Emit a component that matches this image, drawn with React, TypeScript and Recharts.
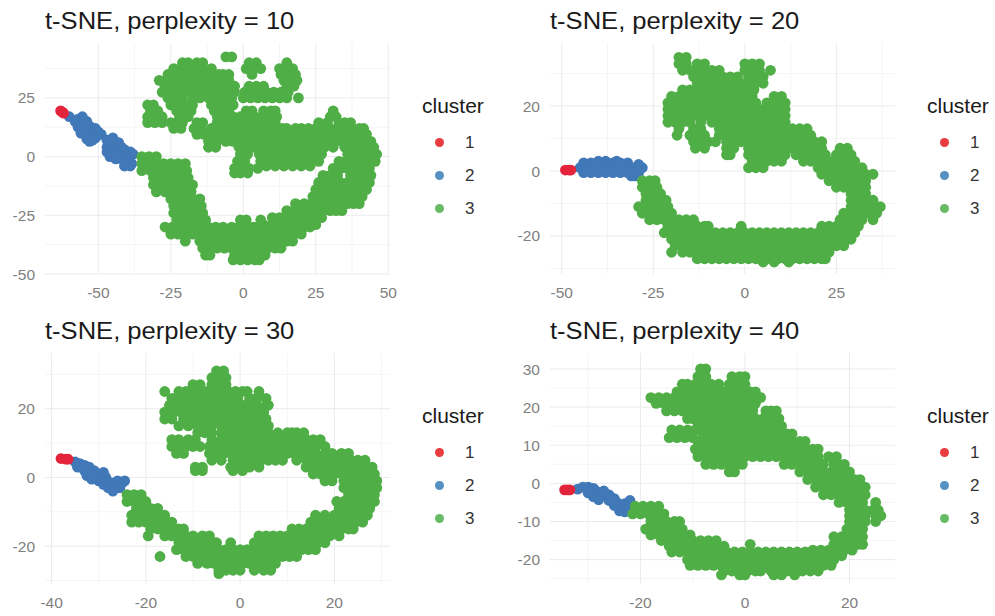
import { CartesianGrid, Scatter, ScatterChart, XAxis, YAxis } from "recharts";

const FONT = '"Liberation Sans", Arial, sans-serif';
const RED = "#E41A1C";
const BLUE = "#377EB8";
const GREEN = "#4DAF4A";

const clusterLabels = ["1", "2", "3"];

const green10 = [
  [42.5, -6, -4],
  [40, -21, -19, -16, -14, 2, 4.5, 15],
  [37.5, -24, -21.5, -19, -16.5, -14, -11, 1, 3.5, 6, 12.5, 15, 17],
  [35, -26, -23.5, -21, -18.5, -16, -13.5, -11, -8.5, -7, -5, 3, 13, 15.5, 18],
  [32.5, -29, -26.5, -24, -21.5, -19, -16.5, -14, -11.5, -9, -6.5, -5, 14, 16.5, 18.5],
  [30, -27, -24.5, -22, -19.5, -17, -14.5, -12, -9.5, -7, -4.5, -3, 2, 4.5, 7, 15, 17.5],
  [27.5, -28, -25.5, -23, -20.5, -18, -15.5, -13, -10.5, -8, -5.5, -3, 0.5, 3, 5.5, 8, 10.5, 13, 15.5],
  [25, -26, -23.5, -21, -17.5, -15, -12, -9.5, -7, -4, 0, 2.5, 5, 7.5, 10, 12.5, 15, 19],
  [22, -33, -31, -25, -22.5, -20, -17.5, -11, -8, -5.5, -3.5],
  [19.5, -32, -29.5, -23, -20.5, -18, -10, -7, -5, 1, 3, 7, 9.5, 11, 31],
  [17, -33, -30.5, -28, -22, -19, -9, -6, -3.5, -1, 1.5, 4, 6.5, 9, 11.5, 30, 32],
  [14.5, -33, -30.5, -28, -25, -23, -21, -16, -14, -9, -6.5, -4, -1.5, 1, 3.5, 6, 8.5, 11, 26, 29, 33, 35, 37],
  [12, -24, -21.5, -17, -14.5, -11, -8.5, -6, -3.5, -1, 1.5, 4, 6.5, 9, 11.5, 13.5, 15, 18, 20, 22.5, 25, 27.5, 30, 32.5, 35, 37.5, 40, 41.5],
  [9.5, -16, -13.5, -10, -7.5, -5, -2.5, 0, 2.5, 5, 7.5, 10, 12.5, 15, 17.5, 20, 22.5, 25, 27.5, 30, 32.5, 35, 37.5, 40, 42.5],
  [6.5, -12, -9, -6, -3.5, -1, 1.5, 4, 6.5, 9, 11.5, 14, 16.5, 19, 21.5, 24, 26.5, 29, 31.5, 34, 36.5, 39, 41.5, 44],
  [4, -12, -9.5, -1.5, 1, 3.5, 6, 8.5, 11, 13.5, 16, 18.5, 21, 23.5, 26, 28, 31, 35, 37.5, 40, 42.5, 45],
  [1, -1, 1.5, 5.5, 7.5, 10, 12.5, 15, 17.5, 20, 22.5, 25, 27, 36, 38.5, 41, 43.5, 46],
  [-2, -2, 0.5, 6, 8.5, 11, 13.5, 16, 18.5, 21, 23.5, 26, 33, 35.5, 38, 40.5, 43, 45.5],
  [-4, 8, 11, 14, 17, 20, 23],
  [-5, -3, -0.5, 2, 5, 31, 33.5, 36, 38.5, 41, 43.5],
  [-7, -3, -1, 1.5],
  [-8, 27.5, 30, 32.5, 37, 39.5, 42, 44],
  [-11, 26, 28.5, 31, 33.5, 36, 38.5, 41, 43.5],
  [-14, 25, 27.5, 30, 32.5, 35, 37.5, 40, 42.5],
  [-17, 24, 26.5, 29, 31.5, 34, 36.5, 39, 41],
  [-20, 18, 21, 23.5, 26, 28.5, 31, 33.5, 36, 38, 40],
  [-23, 15, 17.5, 20, 22.5, 25, 27.5, 30, 32, 34],
  [-26, 10, 12.5, 15, 17.5, 20, 22.5, 25, 27],
  [-27, -1, 1, 6],
  [-29, 7, 10, 12.5, 15, 17.5, 20, 22.5, 25],
  [0, -35, -32.5, -30],
  [-3, -35, -32.5, -30, -27.5, -25, -22.5, -20],
  [-6, -35, -32, -29, -26.5, -24, -21.5, -19.5],
  [-9, -31, -28.5, -26, -23.5, -21, -19],
  [-12, -31, -28.5, -26, -23.5, -21, -18.5, -17.5],
  [-15, -30, -27, -24, -21.5, -19, -18],
  [-18, -25, -22.5, -20, -17.5, -15],
  [-21, -24, -21.5, -19, -16.5, -14.5],
  [-24, -24, -21.5, -19, -16.5, -14],
  [-27, -23, -20.5, -18, -15.5, -13],
  [-30, -27, -24.5, -22, -19.5, -17, -14.5, -12, -9.5, -7, -4, -1.5, 1, 3.5, 6, 8.5, 11, 13.5, 16, 18.5, 21, 23],
  [-33, -25, -22.5, -20, -17.5, -15, -12.5, -10, -7.5, -5, -2.5, 0, 2.5, 5, 7.5, 10, 12.5, 15, 17.5, 20],
  [-36, -20, -15, -12.5, -10, -7.5, -5, -2.5, 0, 2.5, 5, 7.5, 10, 12.5, 15, 17],
  [-39, -14, -11.5, -9, -6.5, -4, -1.5, 1, 3.5, 6, 8.5, 11, 13],
  [-42, -13, -11.5, -3, -0.5, 2, 4.5, 7.5],
  [-44, -3.5, -1, 1.5, 4, 5.5],
];
const blue10 = [
  [17, -60], [15, -58], [14, -56], [15, -54], [12.5, -57], [11.5, -55], [13, -53], [12, -51], [9.5, -54], [10, -52],
  [10.5, -50], [9.5, -49], [7, -52], [6.5, -53], [7, -47], [8, -45], [4, -47], [5, -45], [6, -43], [3, -41],
  [2, -47], [2, -45], [3, -43], [0.5, -41], [2, -39], [-1, -42], [-2, -40], [1, -38], [-4, -41], [-4, -39], [1, -44],
  [8, -51], [13.5, -54.5], [6, -46], [0, -46], [-1, -44], [4, -42], [-3, -38.5], [10, -56], [7.5, -54], [16, -57], [17, -55.5],
];
const red10 = [[19.5, -63], [19, -62.5], [18.5, -62]];

const green20 = [
  [35, -18, -16],
  [33, -18, -16, -13, -11, 0, 2, 4],
  [31, -17, -15, -13, -11, -9, -7, 0, 2, 4, 7],
  [29, -14, -12, -10, -8, -6, -4, -2, 1, 3, 5],
  [27, -13, -11, -9, -7, -5, -3, -1, 1, 3, 5],
  [25, -17, -15, -13, -11, -9, -7, -5, -3, -1, 1, 2.5],
  [23, -20, -18, -16, -14, -12, -10, -8, -6, -4, -2, 0, 2, 8, 10],
  [21, -21, -19, -17, -15, -13, -11, -9, -7, -5, -3, -1, 1, 3, 6, 8, 10, 11],
  [19, -21, -19, -17, -15, -13, -11, -9, -7, -5, -3, -1, 1, 3, 5, 7, 9, 11],
  [17, -21, -19, -17, -15, -13, -11, -9, -7, -5, -3, -1, 1, 3, 5, 7, 9, 11],
  [15, -21, -19, -17, -15, -12, -9, -7, -5, -3, -1, 1, 3, 5, 7, 9, 11],
  [13, -18, -14, -12, -7, -5, -3, -1, 1, 3, 5, 7, 9, 11, 13, 15, 17],
  [11, -18.5, -15, -13, -11, -7, -5, -3, -1, 1, 3, 5, 7, 9, 11, 13, 15, 17, 18],
  [9, -14, -12, -10, -8, -5, -3, -1, 1, 3, 5, 7, 9, 11, 13, 15, 17, 19, 21],
  [7, -13.5, -11, -5, -3, 1, 3, 5, 7, 9, 11, 13, 15, 17, 19, 21, 26, 28],
  [5, -5, -4, 1, 3, 5, 7, 9, 11, 14, 16, 18, 20, 22, 25, 27, 29],
  [3, 2, 4, 6, 8, 10, 16, 18, 20, 22, 24, 26, 28, 30],
  [1, 1, 3, 5, 20, 22, 24, 26, 28, 30, 32],
  [-1, 21, 23, 25, 27, 29, 31, 33, 35],
  [-3, 23, 25, 27, 29, 31, 33, -28, -26, -24.5],
  [-5, 25, 27, 29, 31, 33, -28, -26, -24],
  [-7, 29, 31, 33, -27, -25, -23],
  [-9, 29, 31, 33, 35, -27, -25, -23, -21.5],
  [-11, 29, 31, 33, 35, 37, -29, -27, -25, -23, -21],
  [-13, 27, 29, 31, 33, 35, 36, -28, -26, -24, -22, -20],
  [-15, 26, 28, 30, 32, 35, -26, -24, -22, -20, -18, -16, -14],
  [-17, 21, 23, 25, 27, 29, 31, -21, -19, -17, -15, -13, -11, -10, -1],
  [-19, -22, -20, -18, -16, -14, -12, -10, -8, -6, -4, -2, 0, 2, 4, 6, 8, 10, 12, 14, 16, 18, 20, 22, 24, 26, 28, 30],
  [-21, -20, -18, -16, -14, -12, -10, -8, -6, -4, -2, 0, 2, 4, 6, 8, 10, 12, 14, 16, 18, 20, 22, 24, 26, 28, 29],
  [-23, -19, -17, -15, -13, -11, -9, -7, -5, -3, -1, 1, 3, 5, 7, 9, 11, 13, 15, 17, 19, 21, 23, 25, 27],
  [-25, -20, -17, -15, -13, -11, -9, -7, -5, -3, -1, 1, 3, 5, 7, 9, 11, 13, 15, 17, 19, 21, 23],
  [-27, -13, -11, -9, -7, -5, -3, -1, 1, 3, 5, 7, 9, 11, 13, 15, 17, 19, 21, 22],
  [-28, 5, 8, 12],
];
const blue20 = [
  [2.5, -44, -42, -40, -38, -36, -34, -32],
  [1, -45, -43, -41, -39, -37, -35, -33, -31, -29, -28],
  [-0.5, -44, -42, -40, -38, -36, -34, -32, -30, -29],
  [3, -40, -38, -35],
  [-1.5, -31, -30],
  [2, -29],
];
const red20 = [[0.3, -49, -48, -47.5]];

const green30 = [
  [31, -5, -3.5],
  [29, -6, -4.5, -3],
  [27, -10, -8.5, -6, -4.5, -3],
  [25, -16, -13, -11.5, -10, -8.5, -7, -5.5, -4, -2.5, -1, 0.5, 1.5, 4],
  [23, -14.5, -13, -11.5, -10, -8.5, -7, -5.5, -4, -2.5, -1.5, -0.5, 2, 3.5, 5.5],
  [21, -15, -13.5, -12, -10.5, -9, -7.5, -6, -4.5, -3, -1, 0.5, 2, 3.5, 5.5, 6],
  [19, -16, -14, -12.5, -11, -9.5, -8, -6.5, -5, -3.5, -2, -0.5, 1, 2.5, 4, 5],
  [17, -16, -14.5, -12, -10.5, -9, -7.5, -6, -4.5, -3, -1.5, 0, 1.5, 3, 4.5, 5.5],
  [15, -13, -11, -9, -7.5, -6, -4, -2.5, -1, 0.5, 2, 3.5, 5, 6],
  [13, -9, -7.5, -6, -4, -2.5, -1, 0.5, 2, 3.5, 5, 6, 8, 10, 11, 12, 13.5],
  [11, -14.5, -13, -11, -9.5, -6, -4, -2, -1, 0.5, 2, 3.5, 5, 6.5, 8, 9.5, 11, 12.5, 14, 15.5, 17],
  [9, -14.5, -13, -11.5, -10, -8.5, -6.5, -5, -3.5, -2, -0.5, 1, 2.5, 4, 5.5, 7, 8.5, 10, 11.5, 13, 14.5, 16, 18],
  [7, -13.5, -12, -6.5, -5, -3.5, -2, -0.5, 1, 2.5, 4, 5.5, 7, 8.5, 10, 11.5, 13, 14.5, 16, 18, 19.5, 21.5, 23],
  [5, -6, -4, -1.5, 0, 1.5, 3, 4.5, 6, 7.5, 9, 12, 14, 15.5, 17, 19, 20.5, 22, 23.5, 25, 26.5],
  [3, -9.5, -8, -2, -0.5, 1, 2, 4, 14, 16, 17.5, 19, 20.5, 22, 23.5, 25, 26.5, 28],
  [2, -9.5, -8, -1.5, 0.5],
  [1, 15.5, 17, 18.5, 20, 21.5, 23, 24.5, 26, 27.5, 28.5],
  [-1, 18, 19.5, 22, 23.5, 25, 26.5, 28, 29],
  [-3, 22, 23.5, 25, 26.5, 28, 29],
  [-5, 23, 24.5, 26, 27.5, 28.5, -24, -22.5, -21],
  [-7, 20.5, 22, 23.5, 25, 26.5, 28, 28.5, -24, -22.5, -21, -20],
  [-9, 21, 23, 24.5, 26, 27.5, -22, -20.5, -19, -17.5],
  [-11, 16, 18, 20, 22, 23.5, 25, 26.5, 27, -23, -21.5, -20, -18.5, -17, -16],
  [-13, 15, 17, 18.5, 20, 21.5, 23, 24.5, 26, -23, -21.5, -20, -18.5, -17, -15.5, -14.5],
  [-15, 11, 12.5, 14, 15.5, 17, 18.5, 20, 21.5, 23, 24, -19, -17.5, -16, -14.5, -13, -12],
  [-17, 4, 5.5, 7, 8.5, 10, 11.5, 13, 14.5, 16, 17.5, 19, 21, -19.5, -16, -14.5, -13, -11.5, -10, -8, -6.5],
  [-19, 3, 4.5, 6, 7.5, 9, 10.5, 12, 13.5, 15, 16.5, 18, -13, -11.5, -10, -8.5, -7, -5.5, -5, -2],
  [-21, -13.5, -12, -10.5, -9, -7.5, -6, -4.5, -3, -1.5, 0, 1.5, 3, 4.5, 6, 7.5, 9, 10.5, 11.5, 13, 14.5, 16],
  [-23, -17, -11.5, -10, -8.5, -7, -5.5, -4, -2.5, -1, 0.5, 2, 3.5, 5, 6.5, 8, 9, 10.5, 12],
  [-25, -9, -7, -5.5, -4, -2.5, -1, 0.5, 2, 3.5, 5, 6, 7.5],
  [-27, -4.5, -3, -1.5, 0, 3, 5, 6.5],
  [-28, -4.5],
];
const blue30 = [
  [4.5, -35], [4, -34], [3.5, -33], [3, -34.5], [2, -33], [3, -32], [2, -31], [0.5, -32.5], [0, -31], [1, -30], [1.5, -29],
  [-1, -30], [0, -28.5], [-0.5, -31.5], [-2, -29], [-1.5, -27.5], [-1, -26], [-1.5, -25], [-1, -24.5], [-3, -28], [-3, -26.5], [-3, -25.5], [-4, -27],
];
const red30 = [[5.5, -38], [5.3, -37, -36.5]];

const green40 = [
  [30, -8.5, -7.5],
  [28, -9, -7.5, -2.5, -1, 0],
  [26, -12, -11, -9.5, -8, -6.5, -5, -3, -1.5, 0],
  [24, -13, -11.5, -10, -8.5, -7, -5.5, -4, -2.5, -1, 0.5, 1, 2],
  [22.5, -18, -16.5, -15, -13.5, -12, -10.5, -9, -7.5, -6, -4.5, -3, -1.5, 0, 1.5, 3],
  [21, -17, -15.5, -14, -12.5, -11, -9.5, -8, -6.5, -5, -3.5, -2, -0.5, 1, 2],
  [19, -15, -13.5, -12, -10.5, -9, -7.5, -6, -4.5, -3, -1.5, 0, 1.5, 4, 5, 6],
  [17, -11, -10, -8.5, -7, -5.5, -4, -2.5, -1, 0.5, 2, 3.5, 5, 6.5],
  [15, -9, -7.5, -6, -4.5, -3, -1.5, 0, 1.5, 3, 4.5, 6, 7],
  [14, -14, -12.5, -11, -9.5],
  [13, -8, -7, -5.5, -4, -2.5, -1, 0.5, 2, 3.5, 5, 6.5, 8, 9],
  [12, -14.5, -13, -11.5, -10],
  [11, -9, -7.5, -6, -4.5, -3, -1.5, 0, 1.5, 3, 4.5, 6, 7.5, 9, 10.5, 11.5],
  [9, -9.5, -8, -6.5, -5, -3.5, -2, -0.5, 1, 2.5, 4, 5.5, 7, 8.5, 10, 11.5, 13, 14],
  [7, -9, -7.5, -6, -4.5, -3, -1.5, 0, 1.5, 3, 4.5, 6, 7.5, 9, 10.5, 12, 13, 14, 16, 17.5],
  [5, -7.5, -6, -4.5, -3, -1.5, -0.5, 7.5, 9, 10.5, 12, 13.5, 15, 17, 18, 19],
  [3, -3, -2, 10.5, 12, 13.5, 15, 16.5, 18, 19, 20],
  [1, 12, 13.5, 15, 16.5, 18, 19.5, 21, 22],
  [-1, 13.5, 15, 16.5, 18, 19.5, 21, 22.5, 23],
  [-3, 15, 16.5, 18, 19.5, 21, 22.5, 23],
  [-5, 18, 19.5, 21, 22.5, 25],
  [-6, -21, -19.5, -18, -16.5],
  [-7, 20, 21.5, 23, 24.5, 25.5],
  [-8, -21.5, -20, -18.5, -17, -15.5],
  [-8.5, 20, 21.5, 23, 25, 26],
  [-10, 20, 21.5, 23, 25, -18, -16.5, -15, -13.5, -12.5],
  [-12, 19.5, 21, 22.5, -19, -17.5, -16, -14.5, -13, -12],
  [-13.5, -18, -16.5, -15, -13.5, -12, -10.5],
  [-14, 17, 18.5, 20, 21.5, 22.5],
  [-15, -16, -14.5, -13, -11.5, -10, -8.5, -7, -5.5],
  [-16, 17, 18.5, 20, 21.5, 22.5, 1],
  [-16.5, -14.5, -13, -11.5, -10, -8.5, -7, -5.5, -4],
  [-17.5, 13, 14.5, 16, 17.5, 19, 20.5],
  [-18, -14, -12.5, -11, -9.5, -8, -6.5, -5, -3.5, -2, -0.5, 1, 2.5, 4, 5.5, 7, 8.5, 10, 11.5, 13, 14.5, 16],
  [-19, 17, 18.5],
  [-20, -11, -9.5, -8, -6.5, -5, -3.5, -2, -0.5, 1, 2.5, 4, 5.5, 7, 8.5, 10, 11.5, 13, 14.5, 16, 17],
  [-21.5, -10.5, -9, -7.5, -6, -4.5, -3, -1.5, 0, 1.5, 3, 4.5, 6, 7.5, 9, 10.5, 12, 13.5, 15, 16.5],
  [-23, -4, -2.5, -1, 0.5, 2, 3, 5, 6.5, 8, 9.5, 11, 12.5, 14],
  [-24, -4.5, -1, 0, 5.5, 7, 9.5],
];
const blue40 = [
  [-1.5, -32], [-1, -31], [-1, -30], [-1.3, -29], [-2.5, -30], [-2, -28.5], [-2, -27], [-3.5, -29], [-3.3, -27.5], [-3, -26], [-4.3, -28],
  [-4.5, -26], [-4, -25], [-5, -24.5], [-5.3, -23], [-4.5, -22], [-5.8, -25], [-6.8, -23.5], [-6.5, -22.5], [-7.2, -24], [-7.5, -23],
];
const red40 = [[-1.7, -34.5, -34, -33.5]];

const xTicks10 = [-50, -25, 0, 25, 50];
const xMinor10 = [-37.5, -12.5, 12.5, 37.5];
const yTicks10 = [-50, -25, 0, 25];
const yMinor10 = [-37.5, -12.5, 12.5, 37.5];

const xTicks20 = [-50, -25, 0, 25];
const xMinor20 = [-37.5, -12.5, 12.5, 37.5];
const yTicks20 = [-20, 0, 20];
const yMinor20 = [-30, -10, 10, 30];

const xTicks30 = [-40, -20, 0, 20];
const xMinor30 = [-30, -10, 10, 30];
const yTicks30 = [-20, 0, 20];
const yMinor30 = [-30, -10, 10, 30];

const xTicks40 = [-20, 0, 20];
const xMinor40 = [-30, -10, 10];
const yTicks40 = [-20, -10, 0, 10, 20, 30];
const yMinor40 = [-25, -15, -5, 5, 15, 25];

const toPoints = (rows: number[][]) =>
  rows.flatMap(([y, ...xs]) => xs.map((x) => ({ x, y })));

const Dot = ({ cx, cy, fill }: any) => <circle cx={cx} cy={cy} r={5.4} fill={fill} />;

const Panel = ({ perplexity, box, xDomain, yDomain, xTicks, xMinor, yTicks, yMinor, green, blue, red }: any) => {
  const width = box.right - box.left;
  const height = box.bottom - box.top;
  const tick = { fontSize: 15.5, fill: "#808080", fontFamily: FONT };

  return (
    <>
      <div
        style={{
          position: "absolute",
          left: box.left,
          top: box.top - 36,
          fontFamily: FONT,
          fontSize: 24,
          lineHeight: "28px",
          color: "#1a1a1a",
          whiteSpace: "nowrap",
          transform: "scaleX(1.065)",
          transformOrigin: "left",
        }}
      >
        {`t-SNE, perplexity = ${perplexity}`}
      </div>

      <div style={{ position: "absolute", left: box.left - 45, top: box.top }}>
        <ScatterChart
          width={width + 45 + 20}
          height={height + 34}
          margin={{ top: 0, right: 20, bottom: 0, left: 0 }}
        >
          <CartesianGrid stroke="#f5f5f5" strokeWidth={1} verticalValues={xMinor} horizontalValues={yMinor} />
          <CartesianGrid stroke="#ebebef" strokeWidth={1} verticalValues={xTicks} horizontalValues={yTicks} />
          <XAxis
            type="number"
            dataKey="x"
            domain={xDomain}
            ticks={xTicks}
            interval={0}
            height={34}
            axisLine={false}
            tickLine={false}
            tick={tick}
            tickMargin={7}
          />
          <YAxis
            type="number"
            dataKey="y"
            domain={yDomain}
            ticks={yTicks}
            interval={0}
            width={45}
            axisLine={false}
            tickLine={false}
            tick={tick}
            tickMargin={4}
          />
          <Scatter data={toPoints(blue)} fill="#4178b8" shape={Dot} isAnimationActive={false} />
          <Scatter data={toPoints(green)} fill="#50ae47" shape={Dot} isAnimationActive={false} />
          <Scatter data={toPoints(red)} fill="#e3243b" shape={Dot} isAnimationActive={false} />
        </ScatterChart>
      </div>

      <div style={{ position: "absolute", left: box.right + 32, top: box.top + 51, fontFamily: FONT }}>
        <div style={{ fontSize: 21, lineHeight: "24px", color: "#1a1a1a" }}>cluster</div>
        {clusterLabels.map((label, i) => (
          <div key={label} style={{ display: "flex", alignItems: "center", height: 33, marginTop: i === 0 ? 8 : 0 }}>
            <span
              style={{
                width: 9,
                height: 9,
                marginLeft: 13,
                borderRadius: "50%",
                background: [RED, BLUE, GREEN][i],
                opacity: 0.85,
              }}
            />
            <span style={{ marginLeft: 21, fontSize: 17, color: "#333" }}>{label}</span>
          </div>
        ))}
      </div>
    </>
  );
};

export default function App() {
  return (
    <div style={{ position: "absolute", left: 0, top: 0, width: 995, height: 616, background: "#fff", overflow: "hidden" }}>
      <Panel
        perplexity={10}
        box={{ left: 45, right: 390, top: 43, bottom: 274 }}
        xDomain={[-68.4, 50.6]}
        yDomain={[-50, 48.4]}
        xTicks={xTicks10}
        xMinor={xMinor10}
        yTicks={yTicks10}
        yMinor={yMinor10}
        green={green10}
        blue={blue10}
        red={red10}
      />
      <Panel
        perplexity={20}
        box={{ left: 550, right: 895, top: 43, bottom: 274 }}
        xDomain={[-53.2, 41]}
        yDomain={[-31.7, 39.4]}
        xTicks={xTicks20}
        xMinor={xMinor20}
        yTicks={yTicks20}
        yMinor={yMinor20}
        green={green20}
        blue={blue20}
        red={red20}
      />
      <Panel
        perplexity={30}
        box={{ left: 45, right: 390, top: 353, bottom: 584 }}
        xDomain={[-41.4, 31.8]}
        yDomain={[-31, 36.2]}
        xTicks={xTicks30}
        xMinor={xMinor30}
        yTicks={yTicks30}
        yMinor={yMinor30}
        green={green30}
        blue={blue30}
        red={red30}
      />
      <Panel
        perplexity={40}
        box={{ left: 550, right: 895, top: 353, bottom: 584 }}
        xDomain={[-37.3, 28.7]}
        yDomain={[-26.4, 34.2]}
        xTicks={xTicks40}
        xMinor={xMinor40}
        yTicks={yTicks40}
        yMinor={yMinor40}
        green={green40}
        blue={blue40}
        red={red40}
      />
    </div>
  );
}
